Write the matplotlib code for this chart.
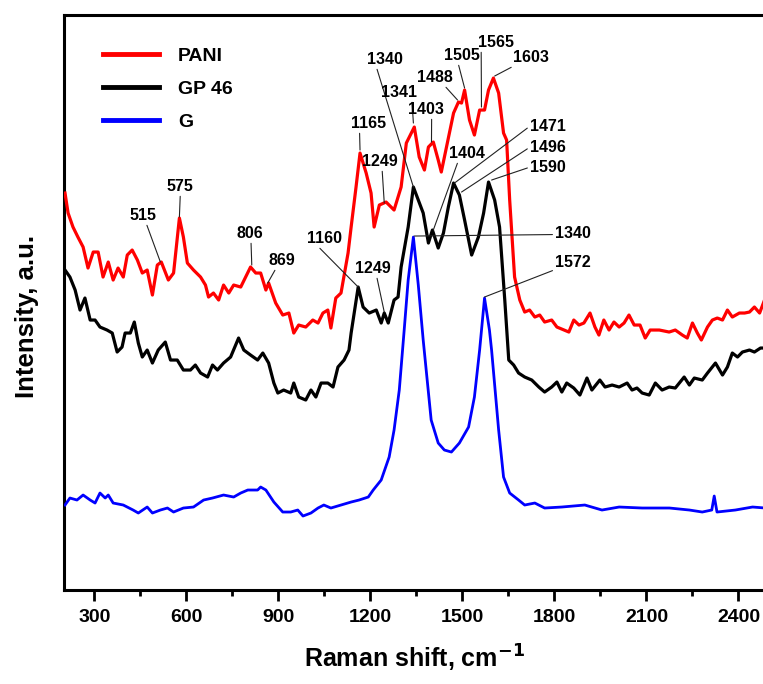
import matplotlib
matplotlib.use("Agg")
import matplotlib.pyplot as plt
from matplotlib.ticker import MultipleLocator

plt.rcParams['font.family'] = ['Liberation Sans', 'DejaVu Sans']
plt.rcParams['font.weight'] = 'bold'

# --- data (Raman shift cm-1, intensity a.u.) ---
pani_x = [204, 214, 230, 246, 263, 279, 296, 312, 328, 345, 361, 377, 394, 407, 423, 440,
          456, 472, 489, 505, 518, 541, 558, 577, 590, 603, 623, 646, 662, 672, 688, 705,
          721, 738, 754, 777, 793, 809, 826, 842, 859, 868, 891, 914, 934, 950, 966, 989,
          1012, 1029, 1045, 1061, 1071, 1087, 1104, 1127, 1137, 1153, 1166, 1186, 1202, 1212,
          1229, 1251, 1277, 1300, 1317, 1343, 1359, 1376, 1389, 1405, 1421, 1431, 1448, 1471,
          1487, 1497, 1507, 1523, 1539, 1556, 1572, 1585, 1601, 1618, 1634, 1644, 1654, 1670,
          1687, 1703, 1719, 1736, 1752, 1768, 1791, 1808, 1831, 1847, 1863, 1880, 1896, 1916,
          1932, 1945, 1961, 1978, 1994, 2011, 2027, 2043, 2060, 2079, 2096, 2112, 2142, 2174,
          2194, 2217, 2233, 2250, 2266, 2279, 2299, 2315, 2331, 2348, 2364, 2380, 2403, 2420,
          2436, 2452, 2469, 2485]
pani_y = [397, 377, 363, 353, 343, 322, 338, 338, 313, 328, 310, 322, 313, 335, 340, 330,
          317, 320, 295, 325, 328, 310, 317, 372, 353, 327, 320, 313, 305, 293, 297, 290,
          305, 297, 305, 303, 313, 323, 317, 317, 300, 307, 287, 275, 277, 257, 265, 263,
          270, 267, 277, 280, 262, 292, 297, 337, 363, 403, 437, 417, 397, 363,
          385, 388, 380, 403, 447, 463, 433, 420, 443, 448, 430, 418, 443, 477,
          488, 487, 500, 470, 455, 480, 480, 500, 512, 497, 457, 450, 390, 313,
          290, 278, 280, 273, 275, 268, 270, 263, 260, 258, 270, 265, 267, 277,
          263, 255, 270, 260, 268, 263, 267, 275, 265, 265, 252, 260, 260, 258,
          260, 255, 252, 267, 257, 250, 263, 270, 272, 270, 280, 273, 277, 277,
          278, 283, 277, 290]

gp46_x = [204, 220, 237, 253, 269, 286, 302, 318, 341, 358, 374, 390, 400, 417, 430, 443,
          456, 472, 489, 508, 531, 548, 570, 590, 613, 629, 646, 669, 685, 701, 721, 744,
          770, 787, 809, 832, 849, 868, 885, 898, 917, 940, 950, 966, 989, 1006, 1022, 1039,
          1061, 1078, 1094, 1114, 1130, 1137, 1160, 1176, 1196, 1219, 1235, 1245, 1258, 1277,
          1290, 1300, 1323, 1340, 1372, 1389, 1402, 1421, 1438, 1454, 1471, 1490, 1507, 1530,
          1552, 1569, 1585, 1605, 1621, 1638, 1651, 1667, 1683, 1703, 1726, 1749, 1768, 1791,
          1808, 1824, 1840, 1863, 1883, 1906, 1922, 1948, 1965, 1988, 2011, 2037, 2053, 2069,
          2086, 2109, 2129, 2151, 2174, 2194, 2223, 2240, 2256, 2282, 2299, 2325, 2348, 2364,
          2380, 2397, 2413, 2436, 2452, 2472, 2485]
gp46_y = [320, 313, 300, 280, 292, 270, 270, 263, 260, 257, 238, 243, 257, 257, 268, 247,
          233, 240, 227, 240, 248, 230, 230, 220, 220, 225, 217, 213, 225, 220, 227, 233,
          252, 240, 235, 230, 237, 227, 207, 197, 200, 197, 207, 193, 190, 200, 193, 207,
          207, 203, 223, 230, 240, 257, 303, 283, 277, 280, 267, 277, 267, 290,
          293, 323, 363, 403, 377, 347, 360, 342, 357, 383, 407, 395, 370, 335,
          353, 377, 408, 390, 363, 290, 230, 225, 217, 213, 210, 203, 198, 203,
          208, 198, 207, 202, 195, 212, 200, 210, 203, 205, 203, 207, 200, 202,
          197, 195, 207, 200, 203, 202, 213, 205, 212, 210, 217, 227, 215, 223,
          237, 233, 238, 240, 238, 242, 242]

g_x = [204, 220, 243, 263, 286, 302, 318, 335, 345, 361, 394, 426, 443, 472, 489, 515,
       538, 558, 590, 623, 656, 685, 721, 754, 777, 800, 832, 842, 859, 885, 914, 940,
       963, 980, 1006, 1029, 1048, 1071, 1104, 1137, 1163, 1193, 1209, 1235, 1261, 1277,
       1294, 1310, 1323, 1340, 1356, 1372, 1398, 1421, 1441, 1464, 1490, 1520, 1539, 1556,
       1572, 1588, 1595, 1618, 1634, 1654, 1683, 1703, 1736, 1768, 1824, 1899, 1955, 2011,
       2086, 2175, 2240, 2282, 2313, 2321, 2330, 2390, 2446, 2488]
g_y = [85, 92, 90, 95, 90, 87, 97, 92, 95, 87, 85, 80, 77, 83, 77, 80,
       82, 78, 82, 83, 90, 92, 95, 93, 97, 100, 100, 103, 100, 88, 78, 78,
       80, 74, 77, 82, 85, 82, 85, 88, 90, 93, 100, 110, 133, 160,
       200, 260, 310, 353, 305, 250, 170, 147, 140, 138, 147, 163, 193, 240,
       292, 260, 240, 160, 113, 97, 90, 85, 87, 82, 83, 85, 80, 83,
       82, 82, 80, 78, 80, 94, 78, 80, 83, 82]

# peak labels: text, peak (x, y), label centre (x, y), line start on label box
peak_labels = [
    ("515", (515, 328), (459, 375), (0.6, 0.0)),
    ("575", (577, 373), (580, 404), (0.5, 0.0)),
    ("806", (813, 325), (806, 357), (0.55, 0.0)),
    ("869", (865, 307), (911, 330), (0.3, 0.0)),
    ("1160", (1160, 303), (1049, 352), (0.3, 0.0)),
    ("1249", (1245, 278), (1208, 322), (0.6, 0.0)),
    ("1165", (1166, 440), (1193, 467), (0.25, 0.0)),
    ("1249", (1245, 387), (1232, 429), (0.55, 0.0)),
    ("1340", (1340, 403), (1248, 531), (0.25, 0.0)),
    ("1341", (1340, 467), (1294, 498), (0.85, 0.0)),
    ("1403", (1399, 448), (1382, 481), (0.65, 0.0)),
    ("1488", (1484, 490), (1409, 513), (0.75, 0.0)),
    ("1505", (1507, 502), (1497, 535), (0.4, 0.0)),
    ("1565", (1562, 483), (1608, 548), (0.1, 0.0)),
    ("1603", (1605, 514), (1723, 533), (0.1, 0.0)),
    ("1404", (1405, 360), (1516, 437), (0.25, 0.0)),
    ("1471", (1474, 407), (1779, 464), (0.0, 0.5)),
    ("1496", (1497, 398), (1779, 443), (0.0, 0.5)),
    ("1590", (1595, 410), (1779, 423), (0.0, 0.5)),
    ("1340", (1343, 354), (1861, 357), (0.0, 0.4)),
    ("1572", (1572, 293), (1861, 328), (0.0, 0.0)),
]

fig = plt.figure(figsize=(7.63, 6.84), dpi=100)
ax = fig.add_axes([0.0836, 0.1374, 0.9204, 0.8406])

ax.plot(pani_x, pani_y, color='#ff0000', lw=2.3, label='PANI', zorder=3)
ax.plot(gp46_x, gp46_y, color='k', lw=2.3, label='GP 46', zorder=3)
ax.plot(g_x, g_y, color='#0000ff', lw=2.0, label='G', zorder=3)

for txt, xy, xytext, rel in peak_labels:
    ax.annotate(txt, xy=xy, xytext=xytext, textcoords='data', ha='center', va='center',
                fontsize=11.5, fontweight='bold', zorder=4,
                arrowprops=dict(arrowstyle='-', color='#222222', lw=0.8,
                                shrinkA=0, shrinkB=0, relpos=rel))

ax.set_xlim(200, 2490)
ax.set_ylim(0, 575)
ax.xaxis.set_minor_locator(MultipleLocator(150))
ax.set_xticks([300, 600, 900, 1200, 1500, 1800, 2100, 2400])
ax.set_yticks([])
ax.tick_params(axis='x', which='major', direction='out', length=8, width=2, pad=6,
               labelsize=14)
ax.tick_params(axis='x', which='minor', direction='out', length=4, width=2)
for lab in ax.get_xticklabels():
    lab.set_fontweight('bold')
for sp in ax.spines.values():
    sp.set_linewidth(2.2)

ax.set_xlabel('Raman shift, cm$^{\\mathbf{-1}}$', fontsize=18, fontweight='bold', labelpad=12)
ax.set_ylabel('Intensity, a.u.', fontsize=18.5, fontweight='bold')
ax.yaxis.set_label_coords(-0.035, 0.475)

leg = ax.legend(loc='upper left', bbox_to_anchor=(0.056, 0.944), frameon=False,
                prop={'size': 14, 'weight': 'bold'}, handlelength=2.85,
                handletextpad=1.0, labelspacing=0.8, borderpad=0, borderaxespad=0)
for line in leg.get_lines():
    line.set_linewidth(3.5)

fig.savefig('out.png', dpi=100)
